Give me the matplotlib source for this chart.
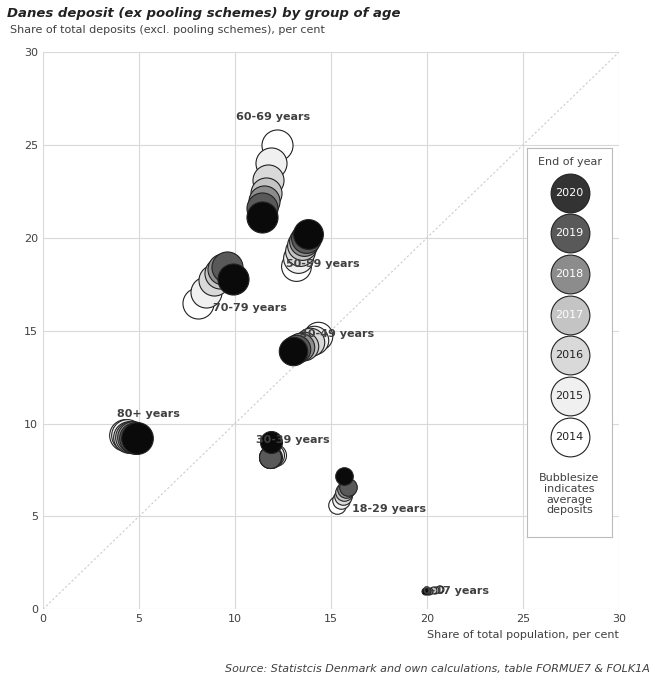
import numpy as np
import matplotlib.pyplot as plt

years = [2014, 2015, 2016, 2017, 2018, 2019, 2020]
colors = ['#ffffff', '#f0f0f0', '#d9d9d9', '#c4c4c4', '#8c8c8c', '#595959', '#0a0a0a']
legend_colors = ['#ffffff', '#f0f0f0', '#d9d9d9', '#c4c4c4', '#8c8c8c', '#595959', '#333333']

groups = ['0-17 years', '18-29 years', '30-39 years', '40-49 years',
          '50-59 years', '60-69 years', '70-79 years', '80+ years']
pop_share = [
    [20.7, 20.6, 20.4, 20.3, 20.1, 20.0, 19.9],
    [15.3, 15.5, 15.6, 15.7, 15.8, 15.9, 15.7],
    [12.1, 12.0, 11.9, 11.8, 11.8, 11.8, 11.9],
    [14.3, 14.1, 13.9, 13.6, 13.4, 13.2, 13.0],
    [13.2, 13.3, 13.4, 13.5, 13.6, 13.7, 13.8],
    [12.2, 11.9, 11.7, 11.6, 11.5, 11.4, 11.4],
    [8.1, 8.5, 8.9, 9.2, 9.4, 9.6, 9.9],
    [4.3, 4.4, 4.5, 4.6, 4.7, 4.8, 4.9],
]
dep_share = [
    [1.1, 1.1, 1.05, 1.05, 1.0, 1.0, 1.0],
    [5.6, 5.9, 6.1, 6.3, 6.5, 6.6, 7.2],
    [8.3, 8.3, 8.2, 8.2, 8.2, 8.2, 9.0],
    [14.7, 14.5, 14.4, 14.2, 14.1, 14.0, 13.9],
    [18.5, 18.9, 19.3, 19.6, 19.8, 20.0, 20.2],
    [25.0, 24.0, 23.1, 22.4, 22.0, 21.6, 21.1],
    [16.5, 17.1, 17.7, 18.1, 18.3, 18.4, 17.8],
    [9.4, 9.4, 9.3, 9.3, 9.3, 9.2, 9.2],
]
bubble_size = [25, 160, 250, 420, 460, 500, 500, 520]
label_pos = [(21.5, 1.0), (18.0, 5.4), (13.0, 9.1), (15.3, 14.8),
             (14.6, 18.6), (12.0, 26.5), (10.8, 16.2), (5.5, 10.5)]

fig = plt.figure(figsize=(6.6, 6.8), dpi=100, facecolor='white')
ax = fig.add_axes([0.065, 0.104, 0.873, 0.8195])

for g in range(len(groups)):
    for i in range(len(years)):
        ax.scatter(pop_share[g][i], dep_share[g][i], s=bubble_size[g],
                   c=colors[i], edgecolors='#222222', linewidths=0.8, zorder=3)
    ax.text(label_pos[g][0], label_pos[g][1], groups[g], fontsize=8,
            fontweight='bold', color='#404040', ha='center', va='center', zorder=4)

ax.plot([0, 30], [0, 30], color='#cccccc', lw=0.8, ls=(0, (2, 2)), zorder=1)
ax.set_xlim(0, 30)
ax.set_ylim(0, 30)
ax.set_xticks(range(0, 31, 5))
ax.set_yticks(range(0, 31, 5))
ax.grid(color='#d9d9d9', lw=0.8)
ax.set_axisbelow(True)
for s in ax.spines.values():
    s.set_visible(False)
ax.tick_params(length=0, labelsize=8, colors='#404040')
ax.set_xlabel('Share of total population, per cent', fontsize=8, color='#404040', loc='right')

fig.text(0.01, 0.975, 'Danes deposit (ex pooling schemes) by group of age',
         fontsize=9.5, fontweight='bold', style='italic', color='#222222')
fig.text(0.015, 0.952, 'Share of total deposits (excl. pooling schemes), per cent',
         fontsize=8, color='#404040')
fig.text(0.985, 0.012, 'Source: Statistcis Denmark and own calculations, table FORMUE7 & FOLK1A',
         fontsize=8, style='italic', color='#404040', ha='right')

# legend box
lg = fig.add_axes([527 / 660, 1 - 537 / 680, 85 / 660, 389 / 680])
lg.set_xlim(0, 1)
lg.set_ylim(0, 1)
lg.set_xticks([])
lg.set_yticks([])
for s in lg.spines.values():
    s.set_color('#bbbbbb')
lg.text(0.5, 0.965, 'End of year', ha='center', va='center', fontsize=8, color='#404040')
for i, yr in enumerate(years[::-1]):
    yy = 0.885 - i * 0.1045
    c = legend_colors[::-1][i]
    lg.scatter(0.5, yy, s=780, c=c, edgecolors='#222222', linewidths=0.8)
    tc = 'white' if i < 4 else '#222222'
    lg.text(0.5, yy, str(yr), ha='center', va='center', fontsize=8, color=tc)
lg.text(0.5, 0.11, 'Bubblesize\nindicates\naverage\ndeposits', ha='center', va='center',
        fontsize=8, color='#404040', linespacing=1.1)

plt.savefig('out.png', dpi=100, facecolor='white')
